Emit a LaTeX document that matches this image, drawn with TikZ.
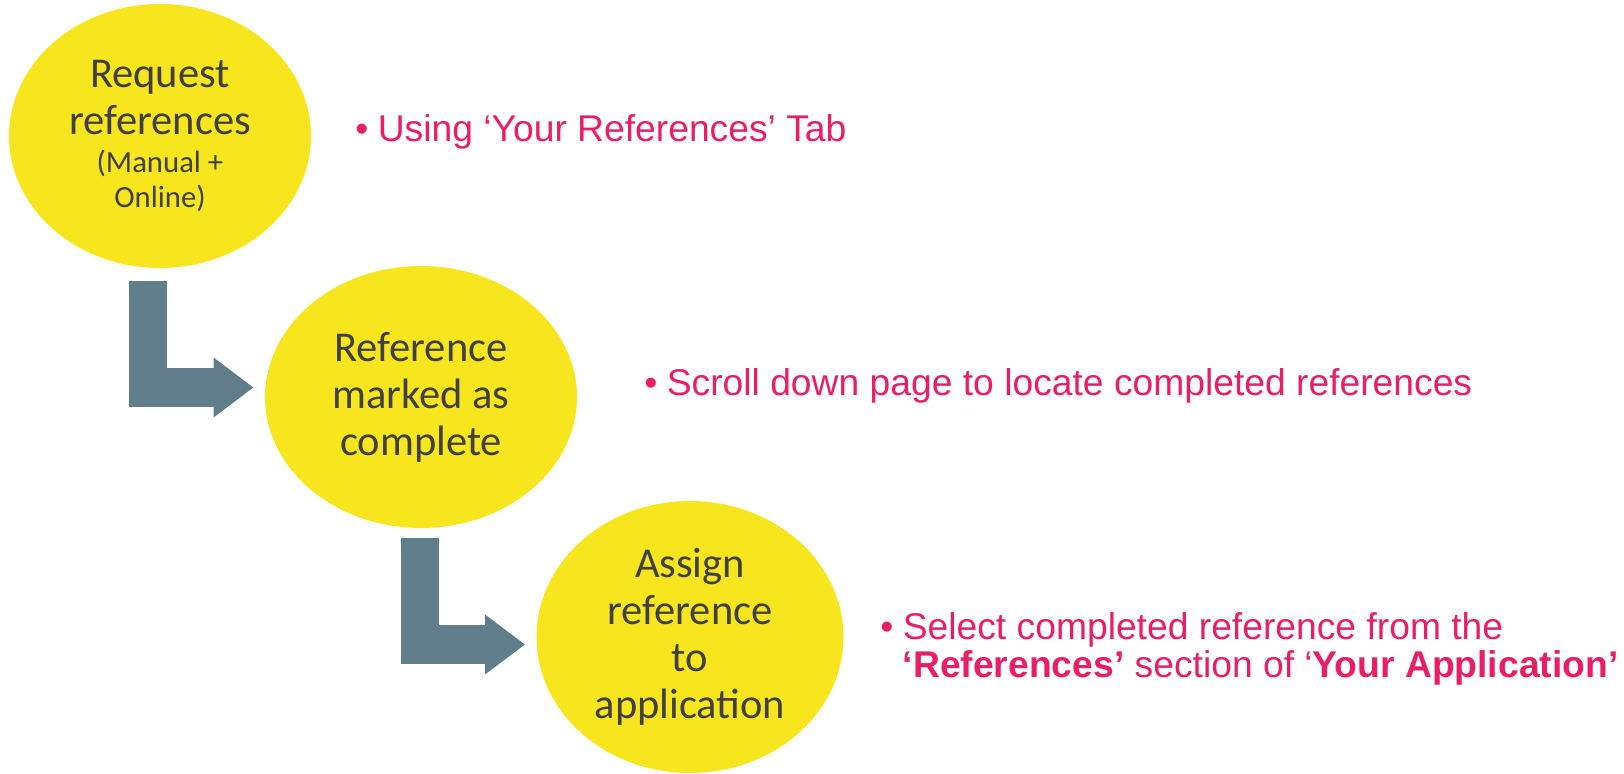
\documentclass[tikz,border=0pt]{standalone}
\usepackage{fontspec}
\setmainfont{Liberation Sans}
\newfontfamily\calibri{Carlito}
\usepackage{tikz}
\usetikzlibrary{arrows.meta, shapes.geometric, positioning, calc}

\definecolor{bubble}{HTML}{F7E51E}
\definecolor{slate}{HTML}{607D8B}
\definecolor{pinktext}{HTML}{E91E63}
\definecolor{inktext}{HTML}{404040}

\tikzset{
  stepball/.style={ellipse, fill=bubble, inner sep=0pt, align=center, text=inktext,
    font=\calibri\fontsize{24.2}{26.7}\selectfont},
  flowarrow/.style={draw=slate, line width=0.78cm, line join=miter,
    -{Triangle[length=0.8cm, width=1.14cm]}},
  bullettext/.style={anchor=base west, inner sep=0pt, text=pinktext,
    font=\fontsize{21.2}{21.6}\selectfont}
}
\newcommand{\bulletmark}{\makebox[0.45cm][l]{\textbullet}}

\begin{document}
\begin{tikzpicture}[x=0.02cm, y=-0.02cm]
            \useasboundingbox (0,0) rectangle (1624,774);
            \node[stepball, minimum width=6.04cm, minimum height=5.28cm] (req) at (160,136)
                {Request\\references\\[-0.18cm]{\fontsize{17.5}{19.9}\selectfont (Manual +}\\[-0.24cm]{\fontsize{17.5}{19.9}\selectfont Online)}};
            \node[stepball, minimum width=6.24cm, minimum height=5.24cm] (mark) at (421,397)
                {Reference\\marked as\\complete};
            \node[stepball, minimum width=6.14cm, minimum height=5.44cm] (assign) at (690,637)
                {Assign\\reference\\to\\application};
            \draw[flowarrow] ($(req.south)+(-12,13)$) |- ($(mark.west)+(-11,-9.5)$);
            \draw[flowarrow] ($(mark.south)+(-1,10)$) |- ($(assign.west)+(-11,7.5)$);
            \node[bullettext] (tabnote) at (355,141) {\bulletmark Using ‘Your References’ Tab};
            \node[bullettext] (scrollnote) at (644,395) {\bulletmark Scroll down page to locate completed references};
            \node[bullettext] (selectnote) at (880,639)
                {\begin{tabular}[t]{@{}l@{}l@{}}
                 \bulletmark & Select completed reference from the\\
                 & \textbf{‘References’} section of ‘\textbf{Your Application’}
                 \end{tabular}};
        \end{tikzpicture}
\end{document}
